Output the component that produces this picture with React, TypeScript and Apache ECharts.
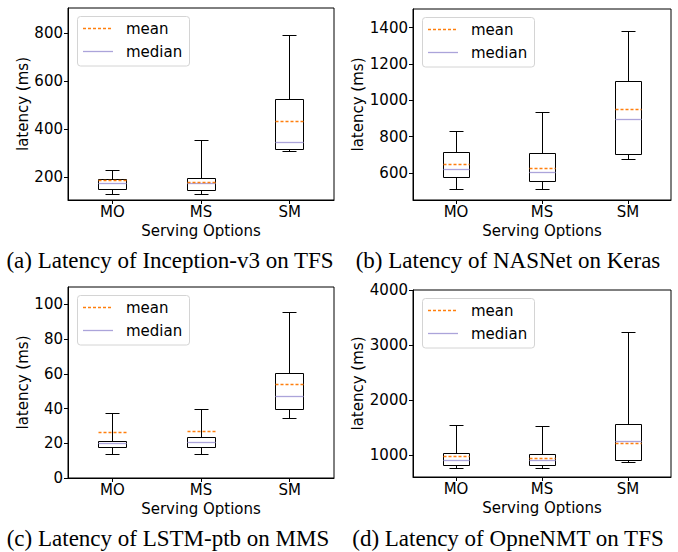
import React, { useEffect, useRef } from "react";
import * as echarts from "echarts";

const categories = ["MO", "MS", "SM"];

// Panel (a) Inception-v3 on TFS
const aLow = [127, 128, 304];
const aQ1 = [147, 143, 312];
const aMed = [174, 171, 343];
const aQ3 = [190, 192, 521];
const aHigh = [228, 350, 790];
const aMean = [186, 175, 431];
const aTicks = [200, 400, 600, 800];

// Panel (b) NASNet on Keras
const bLow = [510, 509, 672];
const bQ1 = [576, 550, 699];
const bMed = [619, 602, 895];
const bQ3 = [710, 705, 1101];
const bHigh = [827, 932, 1378];
const bMean = [644, 622, 950];
const bTicks = [600, 800, 1000, 1200, 1400];

// Panel (c) LSTM-ptb on MMS
const cLow = [13.5, 13.5, 34];
const cQ1 = [17.3, 17.3, 39.2];
const cMed = [19.6, 20.4, 46.9];
const cQ3 = [21.2, 23.5, 60];
const cHigh = [37.3, 39.4, 95.2];
const cMean = [26, 26.7, 53.8];
const cTicks = [0, 20, 40, 60, 80, 100];

// Panel (d) OpneNMT on TFS
const dLow = [759, 759, 879];
const dQ1 = [825, 825, 915];
const dMed = [915, 903, 1254];
const dQ3 = [1030, 1024, 1567];
const dHigh = [1549, 1531, 3233];
const dMean = [988, 952, 1223];
const dTicks = [1000, 2000, 3000, 4000];

const captions = [
  "(a) Latency of Inception-v3 on TFS",
  "(b) Latency of NASNet on Keras",
  "(c) Latency of LSTM-ptb on MMS",
  "(d) Latency of OpneNMT on TFS",
];

const MEAN_COLOR = "#ff7f0e";
const MEDIAN_COLOR = "#aba4da";
const SANS = "DejaVu Sans";

type Panel = {
  low: number[]; q1: number[]; med: number[]; q3: number[]; high: number[]; mean: number[];
  ticks: number[]; min: number; max: number;
  grid: { left: number; top: number; width: number; height: number };
  nameGap: number;
  caption: { x: number; y: number };
};

const panels: Panel[] = [
  { low: aLow, q1: aQ1, med: aMed, q3: aQ3, high: aHigh, mean: aMean, ticks: aTicks, min: 103, max: 905,
    grid: { left: 68, top: 8, width: 266, height: 192 }, nameGap: 36, caption: { x: 170, y: 260 } },
  { low: bLow, q1: bQ1, med: bMed, q3: bQ3, high: bHigh, mean: bMean, ticks: bTicks, min: 450, max: 1503,
    grid: { left: 413, top: 9, width: 258, height: 191 }, nameGap: 47, caption: { x: 508, y: 260 } },
  { low: cLow, q1: cQ1, med: cMed, q3: cQ3, high: cHigh, mean: cMean, ticks: cTicks, min: 0, max: 110,
    grid: { left: 68, top: 287, width: 266, height: 191 }, nameGap: 36, caption: { x: 168, y: 538 } },
  { low: dLow, q1: dQ1, med: dMed, q3: dQ3, high: dHigh, mean: dMean, ticks: dTicks, min: 608, max: 4000,
    grid: { left: 413, top: 290, width: 258, height: 187 }, nameGap: 47, caption: { x: 508, y: 538 } },
];

const snap = (v: number) => Math.round(v - 0.5) + 0.5;

function renderBox(params: any, api: any) {
  const x = api.value(0);
  const low = api.value(1), q1 = api.value(2), med = api.value(3), q3 = api.value(4), high = api.value(5), mean = api.value(6);
  const band = api.size([1, 0])[0];
  const w = Math.round(band * 0.3);
  const cx = snap(api.coord([x, q1])[0]);
  const y = (v: number) => snap(api.coord([x, v])[1]);
  const yLow = y(low), yQ1 = y(q1), yMed = y(med), yQ3 = y(q3), yHigh = y(high), yMean = y(mean);
  const lineStyle = { stroke: "#000", lineWidth: 1 };
  const hw = Math.round(w / 2), qw = Math.round(w / 4);
  return {
    type: "group",
    children: [
      { type: "line", shape: { x1: cx, y1: yQ3, x2: cx, y2: yHigh }, style: lineStyle },
      { type: "line", shape: { x1: cx, y1: yQ1, x2: cx, y2: yLow }, style: lineStyle },
      { type: "line", shape: { x1: cx - qw, y1: yHigh, x2: cx + qw, y2: yHigh }, style: lineStyle },
      { type: "line", shape: { x1: cx - qw, y1: yLow, x2: cx + qw, y2: yLow }, style: lineStyle },
      { type: "rect", shape: { x: cx - hw, y: yQ3, width: 2 * hw, height: yQ1 - yQ3 }, style: { fill: "none", stroke: "#000", lineWidth: 1 } },
      { type: "line", shape: { x1: cx - hw, y1: yMed, x2: cx + hw, y2: yMed }, style: { stroke: MEDIAN_COLOR, lineWidth: 1.3 } },
      { type: "line", shape: { x1: cx - hw, y1: yMean, x2: cx + hw, y2: yMean }, style: { stroke: MEAN_COLOR, lineWidth: 1.3, lineDash: [3, 2] } },
    ],
  };
}

export default function App() {
  const ref = useRef<HTMLDivElement>(null);
  useEffect(() => {
    if (!ref.current) return;
    const chart = echarts.init(ref.current, undefined, { renderer: "svg" });
    const grids: any[] = [];
    const xAxes: any[] = [];
    const yAxes: any[] = [];
    const series: any[] = [];
    const graphics: any[] = [];
    panels.forEach((p, i) => {
      grids.push({ ...p.grid, show: true, borderColor: "#000", borderWidth: 1, backgroundColor: "#fff" });
      xAxes.push({
        type: "category", gridIndex: i, data: categories,
        name: "Serving Options", nameLocation: "middle", nameGap: 23,
        nameTextStyle: { fontFamily: SANS, fontSize: 15, lineHeight: 15, color: "#000" },
        axisLine: { show: true, lineStyle: { color: "#000", width: 1 } },
        axisTick: { show: true, alignWithLabel: true, length: 4, lineStyle: { color: "#000" } },
        axisLabel: { fontFamily: SANS, fontSize: 15, lineHeight: 15, color: "#000", margin: 4 },
        splitLine: { show: false },
      });
      yAxes.push({
        type: "value", gridIndex: i, min: p.min, max: p.max,
        name: "latency (ms)", nameLocation: "middle", nameRotate: 90, nameGap: p.nameGap,
        nameTextStyle: { fontFamily: SANS, fontSize: 15, color: "#000" },
        axisLine: { show: true, lineStyle: { color: "#000", width: 1 } },
        axisTick: { show: true, length: 4, lineStyle: { color: "#000" }, customValues: p.ticks },
        axisLabel: { fontFamily: SANS, fontSize: 15, color: "#000", margin: 5, customValues: p.ticks,
          formatter: (v: number) => String(v), showMinLabel: true, showMaxLabel: true },
        splitLine: { show: false },
      });
      const data = categories.map((_, k) => [k, p.low[k], p.q1[k], p.med[k], p.q3[k], p.high[k], p.mean[k]]);
      series.push({
        type: "custom", xAxisIndex: i, yAxisIndex: i, data, renderItem: renderBox,
        encode: { x: 0, y: [1, 2, 3, 4, 5, 6] }, clip: false,
      });
      const L = p.grid.left, T = p.grid.top;
      graphics.push(
        { type: "rect", z: 100, shape: { x: L + 9.5, y: T + 8.5, width: 112, height: 49.5, r: 3 },
          style: { fill: "rgba(255,255,255,0.85)", stroke: "#d4d4d4", lineWidth: 1 } },
        { type: "line", z: 101, shape: { x1: L + 15, y1: T + 20.5, x2: L + 45, y2: T + 20.5 },
          style: { stroke: MEAN_COLOR, lineWidth: 1.3, lineDash: [3, 2] } },
        { type: "line", z: 101, shape: { x1: L + 15, y1: T + 43.5, x2: L + 45, y2: T + 43.5 },
          style: { stroke: MEDIAN_COLOR, lineWidth: 1.3 } },
        { type: "text", z: 101, x: L + 58, y: T + 20.5,
          style: { text: "mean", fontFamily: SANS, fontSize: 15, fill: "#000", verticalAlign: "middle" } },
        { type: "text", z: 101, x: L + 58, y: T + 43.5,
          style: { text: "median", fontFamily: SANS, fontSize: 15, fill: "#000", verticalAlign: "middle" } },
        { type: "text", z: 101, x: p.caption.x, y: p.caption.y,
          style: { text: captions[i], fontFamily: "Liberation Serif", fontSize: 23, fill: "#000", align: "center", verticalAlign: "middle" } },
      );
    });
    chart.setOption({
      animation: false,
      backgroundColor: "#fff",
      grid: grids,
      xAxis: xAxes,
      yAxis: yAxes,
      series,
      graphic: graphics,
    });
    return () => chart.dispose();
  }, []);
  return <div ref={ref} style={{ position: "fixed", left: 0, top: 0, width: 678, height: 552 }} />;
}
